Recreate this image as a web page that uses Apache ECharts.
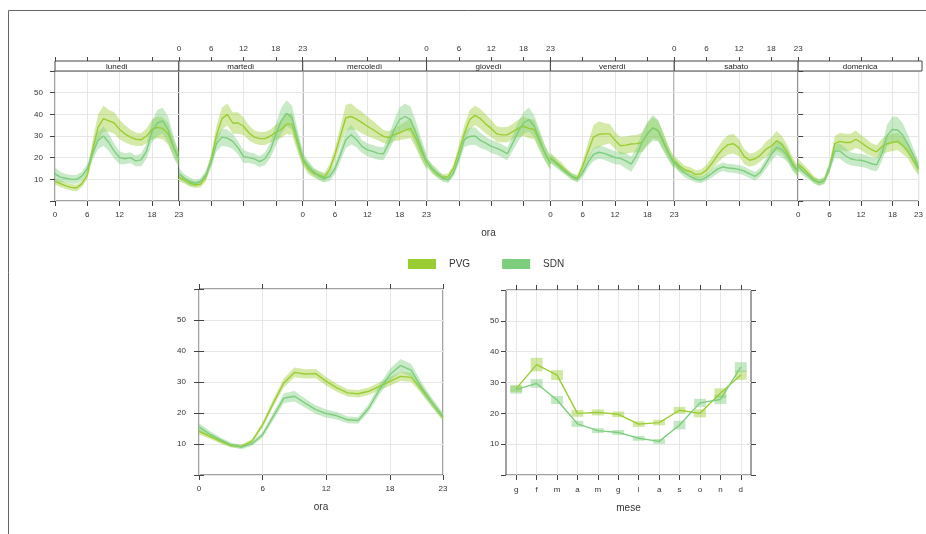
<!DOCTYPE html>
<html><head><meta charset="utf-8">
<script src="https://cdn.jsdelivr.net/npm/echarts@6/dist/echarts.min.js"></script>
<style>html,body{margin:0;padding:0;background:#fff}#c{width:926px;height:534px}</style>
</head><body><div id="c"></div>
<script>
// ---------------- data ----------------
const days = ['lunedì', 'martedì', 'mercoledì', 'giovedì', 'venerdì', 'sabato', 'domenica'];
const hours = [0, 1, 2, 3, 4, 5, 6, 7, 8, 9, 10, 11, 12, 13, 14, 15, 16, 17, 18, 19, 20, 21, 22, 23];
const hourTicks = [0, 6, 12, 18, 23];
const months = ['g', 'f', 'm', 'a', 'm', 'g', 'l', 'a', 's', 'o', 'n', 'd'];
const monthPos = [1, 2, 3, 4, 5, 6, 7, 8, 9, 10, 11, 12];
const yTicks = [10, 20, 30, 40, 50];

// hour x day means
const pvgLun = [9, 8, 7, 6.3, 6, 8, 12, 24, 34, 38, 37, 36, 33, 31, 29.5, 28.5, 28.3, 30, 33, 34, 33.5, 31, 25, 19.5];
const pvgMar = [11, 9.7, 8.2, 7.5, 7.7, 11, 19, 30.5, 38, 40, 36, 36, 34.5, 31.5, 29.5, 28.8, 28.8, 30, 31.7, 33, 35.5, 35.5, 27, 19];
const pvgMer = [19, 15, 12.8, 12, 11, 14.5, 21.5, 30, 38.4, 39, 37.8, 36.2, 34.5, 33, 31.4, 29.8, 29.2, 30.6, 31.5, 32.6, 33.5, 29, 23, 17.5];
const pvgGio = [18.2, 14.8, 12.2, 11, 11.2, 15, 22.9, 31, 37.5, 39.5, 38, 35.5, 33.5, 31, 30.5, 30.6, 32, 33.5, 34.5, 33.5, 33, 27.3, 22, 17.5];
const pvgVen = [20, 18, 16, 13.6, 11.3, 10.5, 16, 23, 29.5, 30.8, 31, 31, 28, 25.5, 25.8, 26.3, 26.5, 27, 31, 33.7, 32.5, 27.5, 22, 17.5];
const pvgSab = [18.5, 16, 14.3, 13.6, 12.2, 12.5, 14.3, 17.4, 21, 24, 26, 26.4, 24.5, 20.5, 18.8, 19.5, 21.2, 23.8, 25.3, 27.8, 26, 22.2, 17.2, 13.3];
const pvgDom = [17, 15, 12.5, 10, 8.5, 9.5, 15.5, 26.5, 27.5, 27, 27, 28.5, 27, 25.2, 23.7, 22.7, 25.2, 26.5, 27, 27.5, 25.6, 23, 18.7, 14.8];

const sdnLun = [12.5, 11, 10.5, 10, 10, 11.5, 15, 22, 28, 30, 27, 23, 20, 19.5, 20, 18.5, 19, 23, 32, 36, 37, 33, 25, 19];
const sdnMar = [12.8, 10.5, 9, 8.2, 9, 12, 18, 26.5, 29.5, 29, 27.5, 24.5, 20.5, 20, 19.5, 18.2, 19.5, 23.5, 30.5, 37, 40.5, 38.5, 29, 20];
const sdnMer = [19.8, 16.2, 13.6, 11.5, 10.5, 11.2, 15, 21.3, 28.3, 30.6, 28.3, 25.2, 23.6, 22.9, 22, 21.8, 26.7, 33, 37.6, 39, 37.6, 31.4, 24.4, 18.2];
const sdnGio = [18.2, 15, 12.8, 10.5, 9.7, 12.8, 19.8, 28.3, 29.8, 30, 28, 26.7, 25.2, 24.4, 23.2, 21.8, 26.7, 32, 36, 37.6, 34.5, 28.3, 22, 17.4];
const sdnVen = [19.5, 17.5, 15, 13, 11.3, 10, 13, 17.8, 21.5, 22.5, 22, 21, 20, 19.7, 18.5, 17, 21, 27, 31, 33.7, 32.5, 26.8, 21.5, 17];
const sdnSab = [18, 15, 12.8, 11.2, 10, 9.7, 11, 12.8, 14.7, 15.8, 15.2, 15, 14.6, 13.8, 12.5, 11.4, 13.3, 17.2, 21.4, 24.7, 23.7, 21, 16.4, 13.3];
const sdnDom = [16, 13.5, 11.5, 9.5, 8.5, 9.5, 15.5, 23, 23, 21, 19.5, 19, 18.8, 18.2, 17.2, 16.7, 21.8, 30.3, 33, 32.8, 30.3, 26, 21, 15.2];

// hour x day confidence half-widths
const pvgLunCI = [1.5, 1.5, 1.5, 1.5, 1.5, 1.5, 2, 4, 6, 6, 5, 5, 4.5, 4, 3.5, 3, 3, 3.5, 4.5, 5, 5, 5, 4, 3];
const pvgMarCI = [2, 1.5, 1.5, 1.5, 1.5, 2, 3, 4.5, 5, 5, 5, 5, 4, 3.5, 3, 3, 3, 3, 3.5, 4, 4.5, 5, 4, 3];
const pvgMerCI = [2.5, 2.5, 2, 2, 2, 2.5, 3, 4.5, 6, 6, 5, 5, 4.5, 4, 3.5, 3, 3, 3, 3.5, 4, 4.5, 4.5, 4, 3];
const pvgGioCI = [2, 2, 1.5, 1.5, 1.5, 2, 3, 4, 4.5, 4.5, 4.5, 4.5, 4, 3.5, 3.5, 3.5, 3.5, 4, 4.5, 4.5, 4.5, 4, 3.5, 3];
const pvgVenCI = [2.5, 2, 2, 1.5, 1.5, 1.5, 2.5, 4, 5.5, 6, 5, 4.5, 4, 4, 4, 4, 4, 4.5, 5, 5, 4.5, 4, 3, 2.5];
const pvgSabCI = [2.5, 2.5, 2, 2, 2, 2, 2.5, 3, 3.5, 4, 4.5, 4.5, 4, 3.5, 3, 3, 3, 3.5, 4, 4.5, 4, 3.5, 3, 2.5];
const pvgDomCI = [2.5, 2, 2, 1.5, 1.5, 1.5, 2.5, 3.5, 4, 4, 4, 4, 3.5, 3.5, 3, 3, 3.5, 4, 4, 4, 4, 3.5, 3.5, 3];

const sdnLunCI = [3, 2.5, 2, 2, 2, 2, 2, 3, 4, 4.5, 4, 3.5, 3, 2.5, 2.5, 2.5, 3, 3.5, 5, 6, 6, 6, 5, 3.5];
const sdnMarCI = [2.5, 2, 2, 1.5, 1.5, 2, 2.5, 3.5, 4, 4, 3.5, 3, 3, 2.5, 2.5, 2.5, 3, 3.5, 5, 6, 6, 5.5, 4.5, 3.5];
const sdnMerCI = [2.5, 2.5, 2, 2, 2, 2, 2.5, 3, 4, 4.5, 3.5, 3, 3, 3, 3, 3, 3.5, 4.5, 5.5, 6, 6, 5.5, 4.5, 3.5];
const sdnGioCI = [2, 2, 2, 1.5, 1.5, 1.5, 2.5, 3.5, 4, 4, 3.5, 3, 3, 3, 3, 3, 3.5, 4.5, 5, 5.5, 5, 4.5, 3.5, 3];
const sdnVenCI = [2, 2, 1.5, 1.5, 1.5, 1.5, 2, 2.5, 3, 3, 3, 3, 3, 3, 3.5, 3.5, 3.5, 4.5, 5.5, 6, 5, 4, 3, 2.5];
const sdnSabCI = [2, 2, 2, 1.5, 1.5, 1.5, 1.5, 2, 2, 2, 2, 2, 2, 2, 2, 2, 2, 2.5, 3, 3.5, 3.5, 3, 2.5, 2];
const sdnDomCI = [2, 2, 1.5, 1.5, 1.5, 1.5, 2, 3, 3.5, 3.5, 3, 3, 3, 3, 3, 3, 3.5, 5, 6, 6, 5.5, 4.5, 3.5, 3];

// hour of day (all days)
const pvgHour = [14.1, 12.5, 10.9, 9.5, 9.2, 10.9, 16.2, 23.2, 29.7, 33.1, 32.6, 32.7, 30.2, 28.1, 26.5, 26.2, 27, 28.6, 30.2, 31.8, 31.5, 27.5, 23, 18.5];
const sdnHour = [15.5, 13.3, 11.4, 9.8, 9, 10.1, 13, 18.9, 24.8, 25.4, 23.2, 21.1, 19.8, 19.1, 17.8, 17.6, 21.6, 27.5, 32.4, 35.3, 33.8, 28.1, 23.2, 18.9];
const pvgHourCI = [1, 0.8, 0.7, 0.6, 0.6, 0.7, 0.9, 1.2, 1.5, 1.6, 1.5, 1.5, 1.4, 1.3, 1.2, 1.2, 1.2, 1.3, 1.4, 1.5, 1.5, 1.4, 1.2, 1];
const sdnHourCI = [1.2, 1, 0.8, 0.7, 0.7, 0.7, 0.9, 1.2, 1.6, 1.7, 1.5, 1.4, 1.3, 1.2, 1.1, 1.1, 1.3, 1.6, 1.9, 2.1, 2, 1.7, 1.4, 1.2];

// month
const pvgMonth = [28, 35.8, 32.4, 20, 20.3, 19.7, 16.5, 17, 21, 20, 26.5, 32.4];
const sdnMonth = [27.7, 29.7, 24.3, 16.6, 14.4, 13.8, 11.9, 10.9, 16.2, 23.4, 24.5, 35];
const pvgMonthCI = [1.1, 2.2, 1.6, 1.1, 1, 0.9, 0.9, 0.9, 1.1, 1.3, 1.6, 1.5];
const sdnMonthCI = [1.3, 1.4, 1.3, 1, 0.8, 0.8, 0.8, 0.8, 1.4, 1.3, 1.5, 1.6];

const pvgWeek = [pvgLun, pvgMar, pvgMer, pvgGio, pvgVen, pvgSab, pvgDom];
const sdnWeek = [sdnLun, sdnMar, sdnMer, sdnGio, sdnVen, sdnSab, sdnDom];
const pvgWeekCI = [pvgLunCI, pvgMarCI, pvgMerCI, pvgGioCI, pvgVenCI, pvgSabCI, pvgDomCI];
const sdnWeekCI = [sdnLunCI, sdnMarCI, sdnMerCI, sdnGioCI, sdnVenCI, sdnSabCI, sdnDomCI];

// ---------------- style / layout ----------------
const C_PVG = '#9ACD32', C_SDN = '#7CCD7C';
const AX = '#444', LBL = '#333', GRIDC = '#e6e6e6';
const FONT = '"Liberation Sans", Arial, sans-serif';
const TOPL = {left: 55, right: 922, top: 71, bottom: 201, strip: 10};
const BL = {left: 199, right: 443, top: 289, bottom: 475};
const BR = {left: 506, right: 751, top: 290, bottom: 475};

const grid = [], xAxis = [], yAxis = [], series = [], graphic = [];

function yAx(gi, opts) {
  return Object.assign({
    gridIndex: gi, type: 'value', min: 0, max: 60, interval: 10,
    axisLine: {show: false},
    axisTick: {show: true, length: 5, lineStyle: {color: AX}},
    axisLabel: {show: true, fontSize: 8, color: LBL, fontFamily: FONT, margin: 12,
      formatter: v => (yTicks.indexOf(v) >= 0 ? String(v) : '')},
    splitLine: {show: true, lineStyle: {color: GRIDC, width: 1}}
  }, opts);
}
function hourAx(gi, pos, opts) {
  return Object.assign({
    gridIndex: gi, type: 'value', min: 0, max: 23, interval: 6, position: pos,
    axisLine: {show: false, onZero: false},
    axisTick: {show: true, length: 5, lineStyle: {color: AX}},
    axisLabel: {show: true, fontSize: 8, color: LBL, fontFamily: FONT, margin: 10},
    splitLine: {show: pos === 'bottom', lineStyle: {color: GRIDC, width: 1}}
  }, opts);
}
// confidence band: one polygon (upper edge forward, lower edge back) placed through the axes' scales
function addBand(xi, yi, key, xs, mean, ci, color) {
  series.push({
    type: 'custom', name: key, xAxisIndex: xi, yAxisIndex: yi, silent: true, z: 2,
    data: xs.map((x, i) => [x, mean[i] - ci[i], mean[i] + ci[i]]),
    renderItem: (params, api) => {
      if (params.dataIndex !== 0) return null;
      const pts = [];
      for (let i = 0; i < xs.length; i++) pts.push(api.coord([xs[i], mean[i] + ci[i]]));
      for (let i = xs.length - 1; i >= 0; i--) pts.push(api.coord([xs[i], mean[i] - ci[i]]));
      return {type: 'polygon', shape: {points: pts}, style: {fill: color, opacity: 0.42}};
    }
  });
}
function addLine(xi, yi, name, xs, mean, color) {
  series.push({type: 'line', name: name, xAxisIndex: xi, yAxisIndex: yi, symbol: 'none',
    data: xs.map((x, i) => [x, mean[i]]), lineStyle: {color: color, width: 1.4},
    itemStyle: {color: color}, z: 3, silent: true});
}

// ---- top row: one panel per weekday ----
const dw = (TOPL.right - TOPL.left) / 7;
days.forEach((d, k) => {
  const gl = TOPL.left + k * dw;
  grid.push({left: gl, top: TOPL.top, width: dw, height: TOPL.bottom - TOPL.top,
    show: true, borderColor: AX, borderWidth: 1, backgroundColor: 'transparent'});
  const xb = xAxis.length;
  xAxis.push(hourAx(k, 'bottom', {axisLabel: {show: k % 2 === 0, fontSize: 8, color: LBL, fontFamily: FONT, margin: 10}}));
  xAxis.push(hourAx(k, 'top', {offset: TOPL.strip, axisTick: {show: true, length: 4, lineStyle: {color: AX}},
    axisLabel: {show: k % 2 === 1, fontSize: 8, color: LBL, fontFamily: FONT, margin: 8}}));
  const yl = yAxis.length;
  yAxis.push(yAx(k, {axisTick: {show: k === 0, length: 5, lineStyle: {color: AX}},
    axisLabel: {show: k === 0, fontSize: 8, color: LBL, fontFamily: FONT, margin: 12,
      formatter: v => (yTicks.indexOf(v) >= 0 ? String(v) : '')}}));
  if (k === 6) {
    yAxis.push(yAx(k, {position: 'right', axisLabel: {show: false}, splitLine: {show: false}}));
  }
  addBand(xb, yl, 'pvg' + k, hours, pvgWeek[k], pvgWeekCI[k], C_PVG);
  addBand(xb, yl, 'sdn' + k, hours, sdnWeek[k], sdnWeekCI[k], C_SDN);
  addLine(xb, yl, 'PVG', hours, pvgWeek[k], C_PVG);
  addLine(xb, yl, 'SDN', hours, sdnWeek[k], C_SDN);
  // strip with day name
  graphic.push({type: 'rect', z: 10, shape: {x: gl, y: TOPL.top - TOPL.strip, width: dw, height: TOPL.strip},
    style: {fill: '#fff', stroke: AX, lineWidth: 1}});
  graphic.push({type: 'text', z: 11, x: gl + dw / 2, y: TOPL.top - TOPL.strip / 2 + 1,
    style: {text: d, fontSize: 8, fill: '#222', fontFamily: FONT, align: 'center', verticalAlign: 'middle'}});
});

// ---- bottom-left: hour of day ----
{
  const gi = grid.length;
  grid.push({left: BL.left, top: BL.top, width: BL.right - BL.left, height: BL.bottom - BL.top,
    show: true, borderColor: AX, borderWidth: 1, backgroundColor: 'transparent'});
  const xb = xAxis.length;
  xAxis.push(hourAx(gi, 'bottom'));
  xAxis.push(hourAx(gi, 'top', {axisLabel: {show: false}}));
  const yl = yAxis.length;
  yAxis.push(yAx(gi, {axisLabel: {show: true, fontSize: 8, color: LBL, fontFamily: FONT, margin: 13,
    formatter: v => (yTicks.indexOf(v) >= 0 ? String(v) : '')}}));
  yAxis.push(yAx(gi, {position: 'right', axisLabel: {show: false}, splitLine: {show: false}}));
  addBand(xb, yl, 'pvgH', hours, pvgHour, pvgHourCI, C_PVG);
  addBand(xb, yl, 'sdnH', hours, sdnHour, sdnHourCI, C_SDN);
  addLine(xb, yl, 'PVG', hours, pvgHour, C_PVG);
  addLine(xb, yl, 'SDN', hours, sdnHour, C_SDN);
}

// ---- bottom-right: month ----
{
  const gi = grid.length;
  grid.push({left: BR.left, top: BR.top, width: BR.right - BR.left, height: BR.bottom - BR.top,
    show: true, borderColor: AX, borderWidth: 1, backgroundColor: 'transparent'});
  const mAx = (pos, showLbl) => ({
    gridIndex: gi, type: 'value', min: 0.5, max: 12.5, position: pos,
    axisLine: {show: false, onZero: false},
    axisTick: {show: true, length: 5, lineStyle: {color: AX}, customValues: monthPos},
    axisLabel: {show: showLbl, fontSize: 8, color: LBL, fontFamily: FONT, margin: 11,
      customValues: monthPos, formatter: v => months[Math.round(v) - 1] || ''},
    splitLine: {show: pos === 'bottom', lineStyle: {color: GRIDC, width: 1}}
  });
  const xb = xAxis.length;
  xAxis.push(mAx('bottom', true));
  xAxis.push(mAx('top', false));
  const yl = yAxis.length;
  yAxis.push(yAx(gi, {axisLabel: {show: true, fontSize: 8, color: LBL, fontFamily: FONT, margin: 7,
    formatter: v => (yTicks.indexOf(v) >= 0 ? String(v) : '')}}));
  yAxis.push(yAx(gi, {position: 'right', axisLabel: {show: false}, splitLine: {show: false}}));
  const rects = (key, mean, ci, color) => series.push({
    type: 'custom', name: key, xAxisIndex: xb, yAxisIndex: yl, silent: true, z: 2,
    data: monthPos.map((m, i) => [m, mean[i] - ci[i], mean[i] + ci[i]]),
    renderItem: (params, api) => {
      const x = api.value(0);
      const p0 = api.coord([x - 0.29, api.value(2)]);
      const p1 = api.coord([x + 0.29, api.value(1)]);
      return {type: 'rect', shape: {x: p0[0], y: p0[1], width: p1[0] - p0[0], height: p1[1] - p0[1]},
        style: {fill: color, opacity: 0.45}};
    }
  });
  rects('pvgM', pvgMonth, pvgMonthCI, C_PVG);
  rects('sdnM', sdnMonth, sdnMonthCI, C_SDN);
  addLine(xb, yl, 'PVG', monthPos, pvgMonth, C_PVG);
  addLine(xb, yl, 'SDN', monthPos, sdnMonth, C_SDN);
}

// axis titles and outer frame
const axTitle = (t, x, y) => graphic.push({type: 'text', x: x, y: y,
  style: {text: t, fontSize: 10, fill: LBL, fontFamily: FONT, align: 'center', verticalAlign: 'middle'}});
axTitle('ora', (TOPL.left + TOPL.right) / 2, 233);
axTitle('ora', (BL.left + BL.right) / 2, 507);
axTitle('mese', (BR.left + BR.right) / 2, 508);
graphic.push({type: 'rect', z: 20, shape: {x: 8.5, y: 10.5, width: 940, height: 540},
  style: {fill: 'none', stroke: '#666', lineWidth: 1}});

const chart = echarts.init(document.getElementById('c'), null, {renderer: 'canvas'});
chart.setOption({
  animation: false,
  backgroundColor: '#fff',
  textStyle: {fontFamily: FONT},
  legend: {
    left: 403, top: 254, itemWidth: 28, itemHeight: 10, itemGap: 32, icon: 'rect',
    textStyle: {fontSize: 10, color: LBL, fontFamily: FONT, padding: [0, 0, 0, 8]},
    data: [{name: 'PVG', itemStyle: {color: C_PVG}}, {name: 'SDN', itemStyle: {color: C_SDN}}]
  },
  grid: grid, xAxis: xAxis, yAxis: yAxis, series: series, graphic: graphic
});
</script></body></html>
